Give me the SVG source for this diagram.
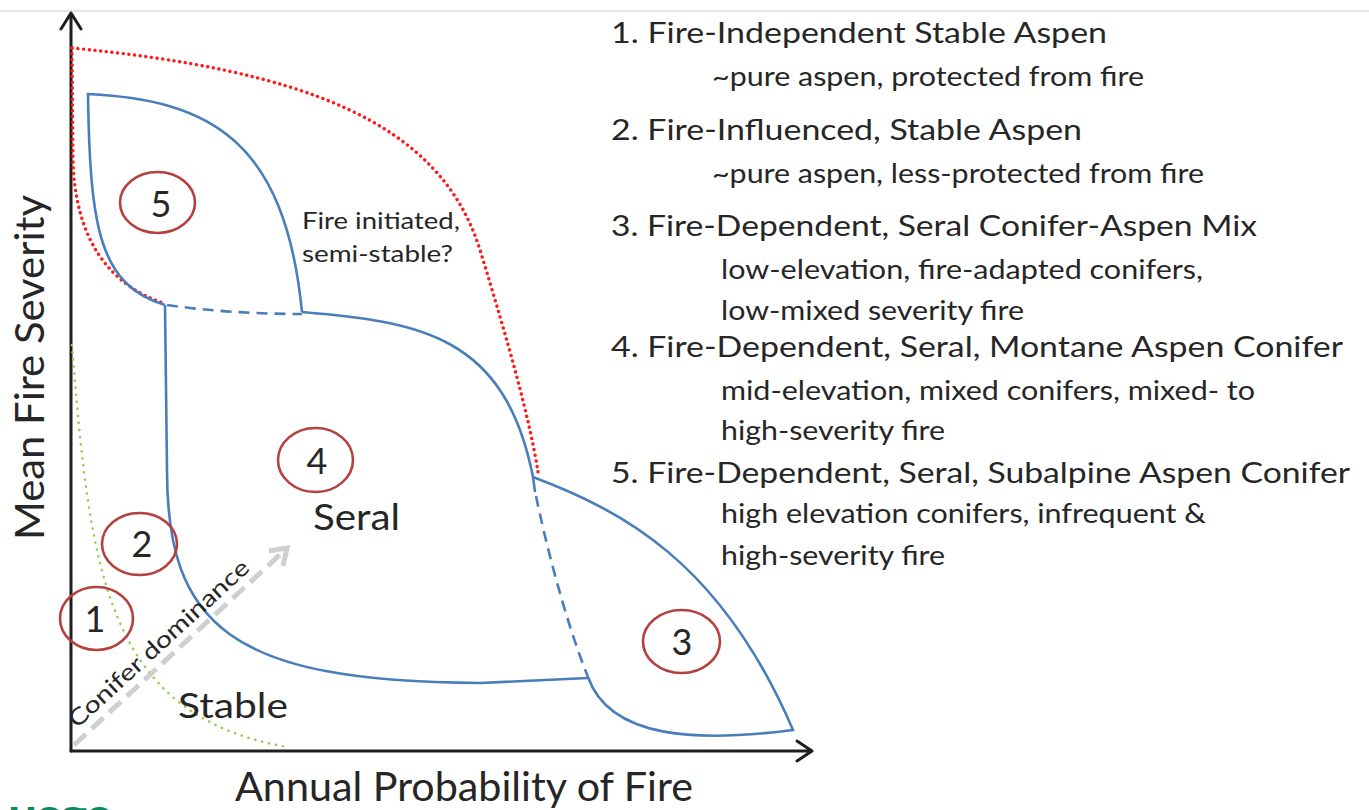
<svg xmlns="http://www.w3.org/2000/svg" width="1369" height="810" viewBox="0 0 1369 810">
<defs>
<style>
text{font-family:Lato,"Liberation Sans","DejaVu Sans",sans-serif;fill:#262626}
.ax{stroke:#1e1e1e;stroke-width:3;fill:none;stroke-linecap:round;stroke-linejoin:round}
.reg{stroke:#4a7ebb;stroke-width:2.6;fill:none;stroke-linejoin:miter}
.dash{stroke:#4a7ebb;stroke-width:2.6;fill:none;stroke-dasharray:11 7}
.red{stroke:#ff1a1a;stroke-width:3.4;fill:none;stroke-dasharray:0.1 5.6;stroke-linecap:round}
.grn{stroke:#92d050;stroke-width:2.6;fill:none;stroke-dasharray:0.1 7;stroke-linecap:round}
.num{stroke:#b5413e;stroke-width:2.6;fill:none}
.dig{font-size:36px;text-anchor:middle}
.h{font-size:29px}
.s{font-size:26px}
</style>
</defs>
<rect width="1369" height="810" fill="#ffffff"/>
<line x1="0" y1="11" x2="1369" y2="11" stroke="#e4e4e4" stroke-width="2"/>

<g id="axes">
<path class="ax" d="M71,751 L71,13 M61,29 L71,13 L81,29"/>
<path class="ax" d="M71,751 L812,751 M797,741 L812,751 L797,761"/>
<text x="235" y="801" font-size="40" textLength="458" lengthAdjust="spacingAndGlyphs">Annual Probability of Fire</text>
<text transform="translate(44,540) rotate(-90)" font-size="40" textLength="345" lengthAdjust="spacingAndGlyphs">Mean Fire Severity</text>
</g>

<g id="boundaries">
<path class="red" d="M72,48 C300,70 440,120 480,250 C508,341 530,420 538,472"/>
<path class="red" d="M72,48 L73,160 C75,240 110,285 163,303"/>
<path class="grn" d="M72,345 C90,570 105,715 287,747"/>
</g>

<g id="region5">
<path class="reg" d="M165,305 C100,285 90,230 88,94 C210,100 285,140 302,312"/>
</g>
<g id="region4">
<path class="reg" d="M302,312 C420,322 505,335 533,477 L535,492"/>
<path class="reg" d="M165,305 L167,470 C167,625 230,682 480,683 L588,678"/>
</g>
<g id="region3">
<path class="reg" d="M533,477 C620,510 720,560 793,730 C700,742 610,740 588,677"/>
</g>
<g id="connectors">
<path class="dash" d="M167,305 Q230,314 302,314"/>
<path class="dash" d="M536,496 C545,540 565,620 588,677"/>
<g id="conifer-arrow">
<path d="M74,745 L285,550" stroke="#cfcfcf" stroke-width="5" stroke-dasharray="16 8" fill="none"/>
<path d="M269,551 L287,548 L283,566" stroke="#cfcfcf" stroke-width="5" fill="none" stroke-linejoin="miter"/>
</g>
</g>

<g id="label-conifer">
<text transform="translate(77,729) rotate(-42.5)" font-size="23" fill="#333" textLength="236" lengthAdjust="spacingAndGlyphs">Conifer dominance</text>
</g>

<g id="node1"><ellipse class="num" cx="96.5" cy="618.5" rx="36.5" ry="31.5"/><text class="dig" x="95" y="632">1</text></g>
<g id="node2"><ellipse class="num" cx="139.5" cy="544" rx="37.5" ry="31"/><text class="dig" x="142" y="557">2</text></g>
<g id="node3"><ellipse class="num" cx="681.5" cy="641.5" rx="38.5" ry="31.5"/><text class="dig" x="682" y="655">3</text></g>
<g id="node4"><ellipse class="num" cx="315.5" cy="460" rx="37.5" ry="32"/><text class="dig" x="317" y="474">4</text></g>
<g id="node5"><ellipse class="num" cx="157.5" cy="202.5" rx="37.5" ry="30.5"/><text class="dig" x="161" y="217">5</text></g>

<g id="region-labels">
<text x="313" y="530" font-size="37" textLength="87" lengthAdjust="spacingAndGlyphs">Seral</text>
<text x="178" y="718" font-size="35" textLength="110" lengthAdjust="spacingAndGlyphs">Stable</text>
<text x="302" y="229" font-size="24" fill="#333" textLength="158" lengthAdjust="spacingAndGlyphs">Fire initiated,</text>
<text x="302" y="262" font-size="24" fill="#333" textLength="151" lengthAdjust="spacingAndGlyphs">semi-stable?</text>
</g>

<g id="legend">
<text class="h" x="611" y="43" textLength="496" lengthAdjust="spacingAndGlyphs">1. Fire-Independent Stable Aspen</text>
<text class="s" x="712" y="86" textLength="432" lengthAdjust="spacingAndGlyphs">~pure aspen, protected from fire</text>
<text class="h" x="611" y="140" textLength="471" lengthAdjust="spacingAndGlyphs">2. Fire-Influenced, Stable Aspen</text>
<text class="s" x="712" y="183" textLength="492" lengthAdjust="spacingAndGlyphs">~pure aspen, less-protected from fire</text>
<text class="h" x="611" y="236" textLength="646" lengthAdjust="spacingAndGlyphs">3. Fire-Dependent, Seral Conifer-Aspen Mix</text>
<text class="s" x="721" y="279" textLength="482" lengthAdjust="spacingAndGlyphs">low-elevation, fire-adapted conifers,</text>
<text class="s" x="721" y="320" textLength="303" lengthAdjust="spacingAndGlyphs">low-mixed severity fire</text>
<text class="h" x="611" y="357" textLength="732" lengthAdjust="spacingAndGlyphs">4. Fire-Dependent, Seral, Montane Aspen Conifer</text>
<text class="s" x="721" y="400" textLength="534" lengthAdjust="spacingAndGlyphs">mid-elevation, mixed conifers, mixed- to</text>
<text class="s" x="721" y="440" textLength="224" lengthAdjust="spacingAndGlyphs">high-severity fire</text>
<text class="h" x="611" y="483" textLength="739" lengthAdjust="spacingAndGlyphs">5. Fire-Dependent, Seral, Subalpine Aspen Conifer</text>
<text class="s" x="721" y="523" textLength="485" lengthAdjust="spacingAndGlyphs">high elevation conifers, infrequent &amp;</text>
<text class="s" x="721" y="565" textLength="224" lengthAdjust="spacingAndGlyphs">high-severity fire</text>
</g>

<g id="logo">
<text x="8" y="830" font-size="44" font-weight="bold" style="fill:#0b8a5f" textLength="102" lengthAdjust="spacingAndGlyphs">usgs</text>
</g>
</svg>
